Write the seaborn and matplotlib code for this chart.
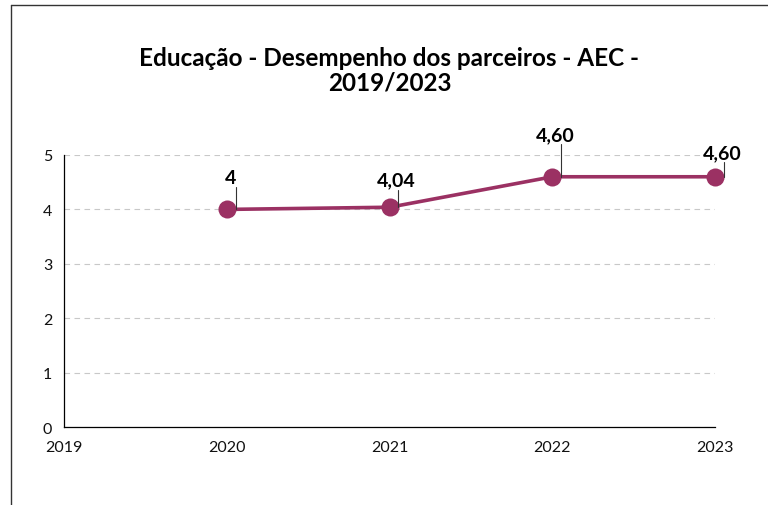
import pandas as pd
import matplotlib.pyplot as plt
import seaborn as sns
from matplotlib.lines import Line2D

anos = [2020, 2021, 2022, 2023]
notas = [4.00, 4.04, 4.60, 4.60]
rotulos = ['4', '4,04', '4,60', '4,60']
anos_eixo = [2019, 2020, 2021, 2022, 2023]

cor = '#9b3163'

sns.set_style('white')
plt.rcParams['font.family'] = ['Lato', 'DejaVu Sans']

df = pd.DataFrame({'ano': anos, 'nota': notas})

fig = plt.figure(figsize=(7.68, 5.06), dpi=100)
ax = fig.add_axes([0.0833, 0.154, 0.848, 0.5377])

sns.lineplot(data=df, x='ano', y='nota', color=cor, linewidth=2.6,
             marker='o', markersize=13, markeredgewidth=0, ax=ax, clip_on=False)

ax.set_xlim(2019, 2023)
ax.set_ylim(0, 5)
ax.set_xticks(anos_eixo)
ax.set_xticklabels([str(a) for a in anos_eixo])
ax.set_yticks(range(0, 6))
ax.set_xlabel('')
ax.set_ylabel('')
ax.yaxis.grid(True, linestyle=(0, (5, 4)), color='#c8c8c8', linewidth=0.8)
ax.set_axisbelow(True)
for s in ['top', 'right']:
    ax.spines[s].set_visible(False)
for s in ['left', 'bottom']:
    ax.spines[s].set_color('black')
    ax.spines[s].set_linewidth(0.9)
ax.tick_params(axis='both', direction='out', length=5, width=0.9,
               color='black', labelsize=11.5, labelcolor='#111111')
ax.tick_params(axis='x', pad=4)

# rótulos com linha de chamada (x da linha, x do texto, y da base do texto)
linha_dx = [0.055, 0.05, 0.055, 0.055]
texto_dx = [0.025, 0.04, 0.02, 0.045]
texto_y = [4.41, 4.36, 5.2, 4.87]
for a, n, r, lx, tx, ty in zip(anos, notas, rotulos, linha_dx, texto_dx, texto_y):
    ax.plot([a + lx, a + lx], [n, ty], color='#333333', lw=0.8, clip_on=False, zorder=5)
    ax.text(a + tx, ty + 0.02, r, ha='center', va='bottom', fontsize=14,
            fontweight='bold', color='black', clip_on=False)

fig.text(0.507, 0.86, 'Educação - Desempenho dos parceiros - AEC -\n2019/2023',
         ha='center', va='center', fontsize=17.5, fontweight='bold',
         color='black', linespacing=1.1)

# moldura
fig.add_artist(Line2D([0.014, 0.014], [0, 0.988], color='#333333', lw=1, transform=fig.transFigure))
fig.add_artist(Line2D([0.014, 1], [0.988, 0.988], color='#333333', lw=1, transform=fig.transFigure))

fig.savefig('out.png', dpi=100)
